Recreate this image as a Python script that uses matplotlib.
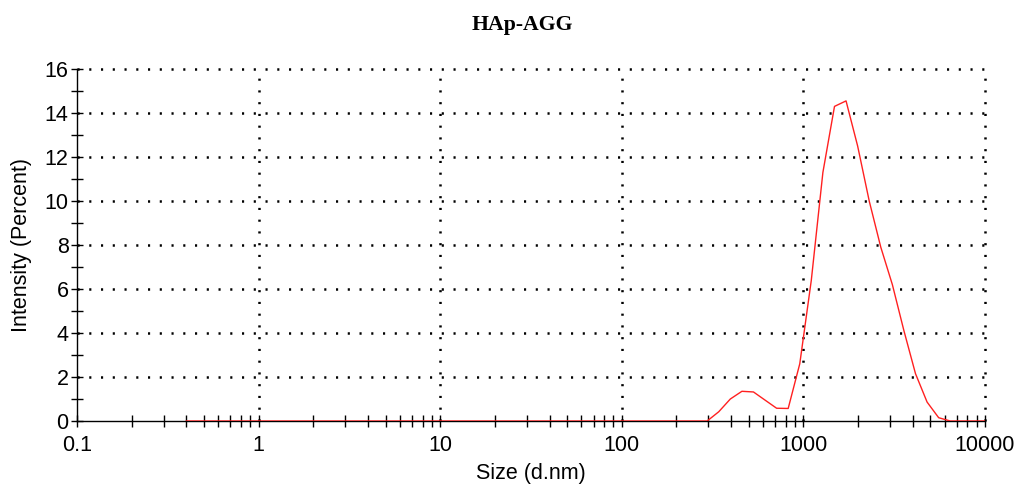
import matplotlib.pyplot as plt
from matplotlib.ticker import FixedLocator, NullFormatter

# size bins (d.nm) and intensity (%)
sizes = [0.4, 0.4632, 0.5365, 0.6213, 0.7195, 0.8332, 0.9649, 1.117, 1.294, 1.499,
         1.736, 2.01, 2.328, 2.696, 3.122, 3.615, 4.187, 4.849, 5.615, 6.503,
         7.531, 8.721, 10.1, 11.7, 13.54, 15.69, 18.17, 21.04, 24.36, 28.21,
         32.67, 37.84, 43.82, 50.75, 58.77, 68.06, 78.82, 91.28, 105.7, 122.4,
         141.8, 164.2, 190.1, 220.2, 255.0, 295.3, 342.0, 396.1, 458.7, 531.2,
         615.1, 712.4, 825.0, 955.4, 1106, 1281, 1484, 1718, 1990, 2305,
         2669, 3091, 3580, 4145, 4801, 5560, 6439, 7456, 8635, 10000]
intensity = [0] * 45 + [0.0, 0.42, 1.0, 1.35, 1.32,
                        0.95, 0.58, 0.57, 2.6, 6.4, 11.3, 14.3, 14.55, 12.5, 10.0,
                        7.9, 6.2, 4.1, 2.15, 0.86, 0.15, 0.0, 0.0, 0.0, 0.0]

x_ticks = [0.1, 1, 10, 100, 1000, 10000]
x_labels = ['0.1', '1', '10', '100', '1000', '10000']
y_ticks = list(range(0, 17, 2))

plt.rcParams['font.family'] = ['Liberation Sans', 'DejaVu Sans']

fig = plt.figure(figsize=(10.21, 4.96), dpi=100)
ax = fig.add_axes([0.0754, 0.1512, 0.8893, 0.7097])

ax.plot(sizes, intensity, color='#ff2020', lw=1.0, zorder=3)

ax.set_xscale('log')
ax.set_xlim(0.1, 10000)
ax.set_ylim(0, 16)
ax.set_xticks(x_ticks)
ax.set_xticklabels(x_labels)
ax.xaxis.set_minor_locator(FixedLocator([m * 10.0 ** e for e in range(-1, 4) for m in range(2, 10)]))
ax.xaxis.set_minor_formatter(NullFormatter())
ax.set_yticks(y_ticks)
ax.yaxis.set_minor_locator(FixedLocator(list(range(1, 16, 2))))

ax.tick_params(which='both', direction='inout', length=8, width=1, labelsize=15.5, colors='black')
ax.tick_params(axis='x', which='major', pad=6)
ax.tick_params(axis='y', which='major', pad=2)

for s in ['top', 'right']:
    ax.spines[s].set_visible(False)
for s in ['left', 'bottom']:
    ax.spines[s].set_linewidth(1.0)

dots = dict(color='black', lw=1.8, linestyle=(0, (0.85, 3.85)), clip_on=False, zorder=1)
for xv in x_ticks[1:]:
    ax.axvline(xv, **dots)
for yv in y_ticks[1:]:
    ax.axhline(yv, **dots)

ax.set_xlabel('Size (d.nm)', fontsize=15.5, labelpad=5)
ax.set_ylabel('Intensity (Percent)', fontsize=15.5, labelpad=9)
fig.text(0.512, 0.95, 'HAp-AGG', fontsize=15.7, fontweight='bold',
         family='Liberation Serif', ha='center', va='center')

fig.savefig('out.png', dpi=100)
